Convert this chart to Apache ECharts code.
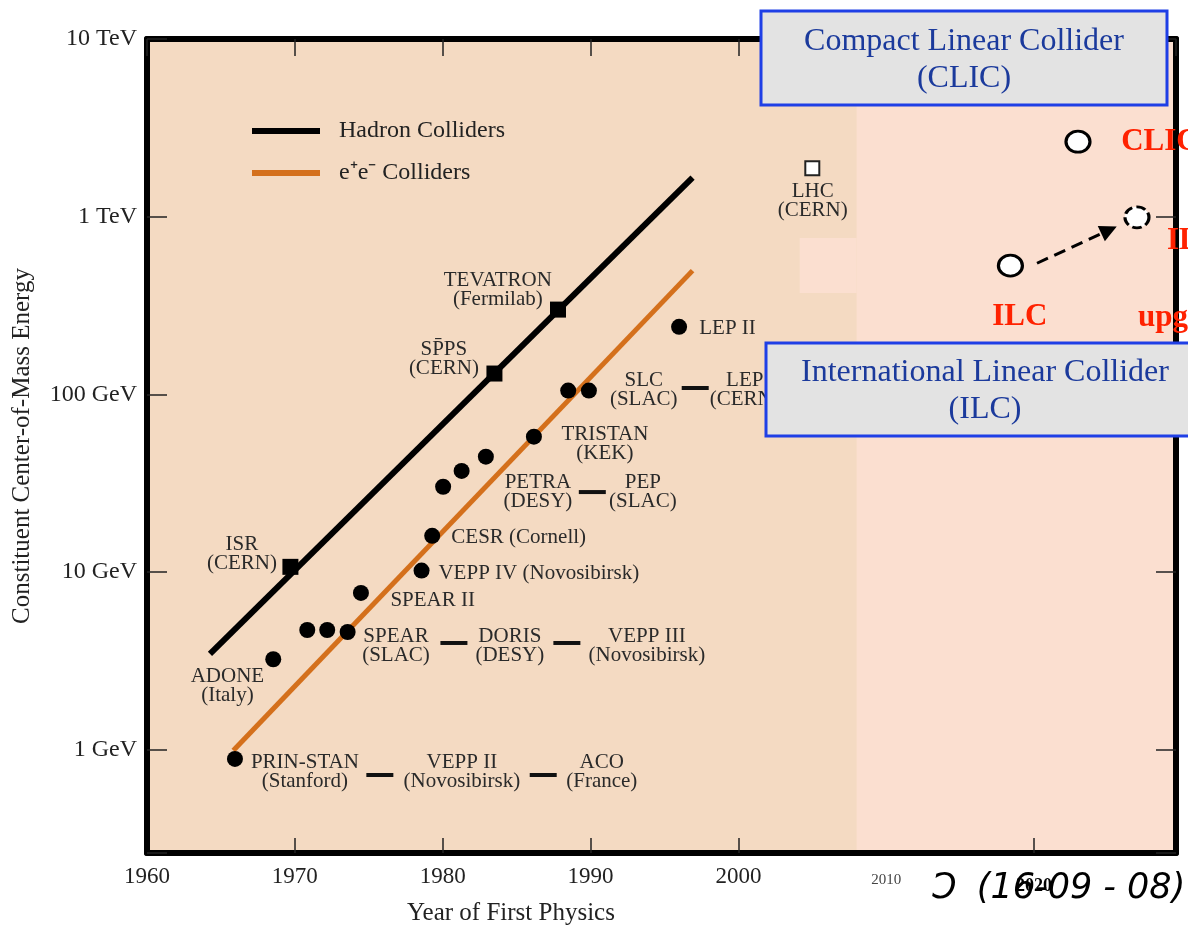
<!DOCTYPE html>
<html><head><meta charset="utf-8">
<script src="https://cdn.jsdelivr.net/npm/echarts@6/dist/echarts.min.js"></script>
<style>html,body{margin:0;padding:0;background:#fff}#c{width:1188px;height:925px}</style>
</head><body><div id="c"></div>
<script>
// ---------- data ----------
const hadronNames  = ['ISR', 'SPPS', 'TEVATRON'];
const hadronYears  = [1969.7, 1983.5, 1987.8];
const hadronEnergy = [10.7, 131, 300];            // GeV
const lhcYear = 2005.0, lhcEnergy = 1873;         // GeV (open square)

const eeYears  = [1965.95, 1968.54, 1970.84, 1972.19, 1973.57, 1974.47, 1978.57, 1979.29,
                  1980.03, 1981.28, 1982.92, 1986.17, 1988.49, 1989.89, 1995.99];
const eeEnergy = [0.888, 3.23, 4.72, 4.72, 4.60, 7.63, 10.2, 16.0,
                  30.2, 37.1, 44.6, 57.8, 105, 105, 240];

const hadronTrend = [[1964.26, 3.46], [1996.9, 1658]];
const eeTrend     = [[1965.84, 0.99], [1996.9, 497]];

const futureNames  = ['CLIC', 'ILC', 'ILC upgrade'];
const futureYears  = [2022.97, 2018.40, 2026.96];
const futureEnergy = [2642, 530, 992];
const arrowFrom = [2020.2, 547];
const arrowTo   = [2025.07, 841];

const xLabelYears = [1960, 1970, 1980, 1990, 2000, 2010, 2020];
const xTickYears  = [1970, 1980, 1990, 2000, 2020];
const yTickLabels = {0: '1 GeV', 1: '10 GeV', 2: '100 GeV', 3: '1 TeV', 4: '10 TeV'};

// annotations: [year, energy (GeV), text]
const centeredNotes = [
  [1983.73, 387, 'TEVATRON\n(Fermilab)'],
  [1980.08, 158, 'SP\u0304PS\n(CERN)'],
  [1966.42, 12.56, 'ISR\n(CERN)'],
  [1965.44, 2.29, 'ADONE\n(Italy)'],
  [1970.68, 0.745, 'PRIN-STAN\n(Stanford)'],
  [1981.30, 0.745, 'VEPP II\n(Novosibirsk)'],
  [1990.76, 0.745, 'ACO\n(France)'],
  [1976.84, 3.86, 'SPEAR\n(SLAC)'],
  [1984.54, 3.86, 'DORIS\n(DESY)'],
  [1993.81, 3.86, 'VEPP III\n(Novosibirsk)'],
  [1986.44, 28.05, 'PETRA\n(DESY)'],
  [1993.54, 28.05, 'PEP\n(SLAC)'],
  [1990.97, 52.9, 'TRISTAN\n(KEK)'],
  [1993.60, 105.9, 'SLC\n(SLAC)'],
  [2000.43, 105.9, 'LEP\n(CERN)'],
  [2005.03, 1218, 'LHC\n(CERN)']
];
const leftNotes = [
  [1976.43, 6.88, 'SPEAR II'],
  [1979.68, 9.76, 'VEPP IV (Novosibirsk)'],
  [1980.55, 15.56, 'CESR (Cornell)'],
  [1997.32, 236.4, 'LEP II']
];
const dashMarks = [
  [1975.75, 0.721], [1986.80, 0.721], [1980.76, 3.99],
  [1988.40, 3.99], [1990.12, 28.2], [1997.08, 108.6]
];
const redNotesLeft = [
  [2025.86, 2633, 'CLIC'],
  [2028.95, 730, 'ILC'],
  [2027.0, 269, 'upgrade']
];
const redNotesCenter = [[2019.03, 272.6, 'ILC']];

// ---------- style ----------
const SERIF = '"Liberation Serif", "Times New Roman", serif';
const TAN = '#F4DAC2', LIGHT = '#FBDFD0', ORANGE = '#D4701C', RED = '#FF2200';
const BLUE_TXT = '#1B3A9C', BLUE_LINE = '#1F3FE6';
const Y_MIN = 0.2624, Y_MAX = 10000, X_MIN = 1960, X_MAX = 2029.6;

function textSeries(list, pos, extra) {
  return {
    type: 'scatter', silent: true, z: 4, symbol: 'circle', symbolSize: 1,
    itemStyle: {color: 'rgba(0,0,0,0)', opacity: 1},
    data: list.map(d => ({value: [d[0], d[1]], name: d[2]})),
    label: Object.assign({
      show: true, position: pos, distance: 0, formatter: p => p.name,
      fontFamily: SERIF, fontSize: 21, lineHeight: 19, color: '#2a2a2a', align: pos === 'inside' ? 'center' : 'left'
    }, extra || {})
  };
}

const axisLine = {onZero: false, lineStyle: {color: '#000', width: 6}};
const tickStyle = {color: '#222', width: 1.5};

const chart = echarts.init(document.getElementById('c'), null, {renderer: 'canvas'});
chart.setOption({
  animation: false,
  backgroundColor: '#ffffff',
  grid: {left: 147, right: 12, top: 39, bottom: 72, show: true, backgroundColor: LIGHT, borderWidth: 0},
  legend: {
    data: ['Hadron Colliders', 'e\u207Ae\u207B Colliders'],
    orient: 'vertical', left: 247, top: 114, itemGap: 18,
    icon: 'rect', itemWidth: 68, itemHeight: 6, selectedMode: false,
    textStyle: {fontFamily: SERIF, fontSize: 24, color: '#222', lineHeight: 24, padding: [0, 0, 0, 14]}
  },
  xAxis: [{
    type: 'value', min: X_MIN, max: X_MAX, interval: 10, position: 'bottom', z: 1,
    axisLine: axisLine,
    axisTick: {inside: true, length: 15, customValues: xTickYears, lineStyle: tickStyle},
    splitLine: {show: false},
    axisLabel: {
      customValues: xLabelYears, margin: 12, fontFamily: SERIF, fontSize: 23, color: '#222',
      formatter: v => v === 2010 ? '{s|2010}' : (v === 2020 ? '{b|2020}' : (v % 10 === 0 ? String(v) : '')),
      rich: {
        s: {fontSize: 15, color: '#444', fontFamily: SERIF, padding: [8, 0, 0, 0]},
        b: {fontSize: 18, fontWeight: 'bold', color: '#000', fontFamily: SERIF, padding: [12, 0, 0, 0]}
      }
    }
  }, {
    type: 'value', min: X_MIN, max: X_MAX, interval: 10, position: 'top', z: 1,
    axisLine: axisLine,
    axisTick: {inside: true, length: 17, lineStyle: tickStyle},
    axisLabel: {show: false}, splitLine: {show: false}
  }],
  yAxis: [{
    type: 'log', logBase: 10, min: Y_MIN, max: Y_MAX, position: 'left', z: 1,
    name: 'Constituent Center-of-Mass Energy', nameLocation: 'middle', nameGap: 112,
    nameTextStyle: {fontFamily: SERIF, fontSize: 25, color: '#222'},
    axisLine: axisLine,
    axisTick: {inside: true, length: 20, lineStyle: tickStyle},
    splitLine: {show: false},
    axisLabel: {
      margin: 10, fontFamily: SERIF, fontSize: 24, color: '#222',
      formatter: v => { const l = Math.log10(v), r = Math.round(l); return Math.abs(l - r) < 1e-6 && yTickLabels[r] ? yTickLabels[r] : ''; }
    }
  }, {
    type: 'log', logBase: 10, min: Y_MIN, max: Y_MAX, position: 'right', z: 1,
    axisLine: axisLine,
    axisTick: {inside: true, length: 20, lineStyle: tickStyle},
    axisLabel: {show: false}, splitLine: {show: false}
  }],
  series: [
    { // background regions
      type: 'line', name: 'bg', data: [], z: 0, silent: true,
      markArea: {
        silent: true,
        data: [
          [{xAxis: 1960, itemStyle: {color: TAN, opacity: 1}}, {xAxis: 2008.0}],
          [{coord: [2004.15, 372], itemStyle: {color: LIGHT, opacity: 1}}, {coord: [2008.0, 759]}]
        ]
      }
    },
    {
      type: 'line', name: 'Hadron Colliders', data: hadronTrend, symbol: 'none', z: 2,
      lineStyle: {color: '#000', width: 6}, itemStyle: {color: '#000'}
    },
    {
      type: 'line', name: 'e\u207Ae\u207B Colliders', data: eeTrend, symbol: 'none', z: 2,
      lineStyle: {color: ORANGE, width: 5}, itemStyle: {color: ORANGE}
    },
    {
      type: 'scatter', name: 'hadron', z: 3, symbol: 'rect', symbolSize: 16,
      itemStyle: {color: '#000', opacity: 1},
      data: hadronYears.map((y, i) => ({value: [y, hadronEnergy[i]], name: hadronNames[i]}))
    },
    {
      type: 'scatter', name: 'LHC', z: 3, symbol: 'rect', symbolSize: 14,
      itemStyle: {color: '#fff', borderColor: '#222', borderWidth: 2, opacity: 1},
      data: [{value: [lhcYear, lhcEnergy], name: 'LHC'}]
    },
    {
      type: 'scatter', name: 'ee', z: 3, symbol: 'circle', symbolSize: 16,
      itemStyle: {color: '#000', opacity: 1},
      data: eeYears.map((y, i) => [y, eeEnergy[i]])
    },
    {
      type: 'scatter', name: 'future', z: 5, symbol: 'circle', symbolSize: [24, 21],
      itemStyle: {opacity: 1},
      data: futureYears.map((y, i) => ({
        value: [y, futureEnergy[i]], name: futureNames[i],
        itemStyle: i === 2 ? {color: '#fff', borderColor: '#000', borderWidth: 3, borderType: [9, 4], opacity: 1}
                           : {color: '#fff', borderColor: '#000', borderWidth: 3, opacity: 1}
      })),
      markLine: {
        silent: true, symbol: ['none', 'triangle'], symbolSize: 17,
        label: {show: false},
        lineStyle: {color: '#000', width: 3, type: [12, 7], opacity: 1},
        data: [[{coord: arrowFrom}, {coord: arrowTo}]]
      }
    },
    {
      type: 'scatter', name: 'dash', z: 3, silent: true, symbol: 'rect', symbolSize: [27, 4],
      itemStyle: {color: '#111', opacity: 1}, data: dashMarks
    },
    textSeries(centeredNotes, 'inside'),
    textSeries(leftNotes, 'right'),
    textSeries(redNotesLeft, 'right', {fontSize: 31, fontWeight: 'bold', color: RED, lineHeight: 34}),
    textSeries(redNotesCenter, 'inside', {fontSize: 31, fontWeight: 'bold', color: RED, lineHeight: 34})
  ],
  graphic: [
    {type: 'text', z: 50, x: 511, y: 913, style: {text: 'Year of First Physics', font: '25px ' + SERIF, fill: '#222',
      align: 'center', textAlign: 'center', verticalAlign: 'middle', textVerticalAlign: 'middle'}},
    {type: 'text', z: -1, x: 930, y: 889, style: {text: '\u0186  (16-09 - 08)', font: 'italic 35px "DejaVu Sans", sans-serif', fill: '#000',
      align: 'left', textAlign: 'left', verticalAlign: 'middle', textVerticalAlign: 'middle'}},
    {type: 'rect', z: 100, shape: {x: 761, y: 11, width: 406, height: 94},
      style: {fill: '#E3E3E3', stroke: BLUE_LINE, lineWidth: 3}},
    {type: 'text', z: 101, x: 964, y: 60, style: {text: 'Compact Linear Collider\n(CLIC)', font: '32px ' + SERIF, fill: BLUE_TXT,
      lineHeight: 37, align: 'center', textAlign: 'center', verticalAlign: 'middle', textVerticalAlign: 'middle'}},
    {type: 'rect', z: 100, shape: {x: 766, y: 343, width: 440, height: 93},
      style: {fill: '#E3E3E3', stroke: BLUE_LINE, lineWidth: 3}},
    {type: 'text', z: 101, x: 985, y: 391, style: {text: 'International Linear Collider\n(ILC)', font: '32px ' + SERIF, fill: BLUE_TXT,
      lineHeight: 37, align: 'center', textAlign: 'center', verticalAlign: 'middle', textVerticalAlign: 'middle'}}
  ]
});
</script>
</body></html>
